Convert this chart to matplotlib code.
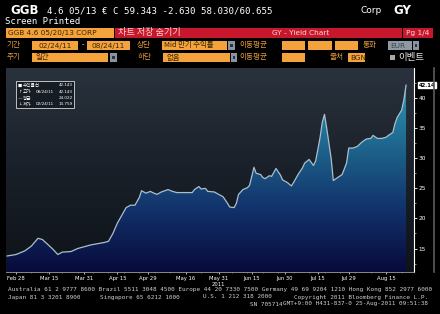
import numpy as np
import pandas as pd
import matplotlib
matplotlib.use("Agg")
import matplotlib.pyplot as plt
import matplotlib.dates as mdates
import matplotlib.transforms as mtransforms
from matplotlib.patches import Rectangle, Polygon
from matplotlib.lines import Line2D
from matplotlib.colors import LinearSegmentedColormap

# yield series (GGB 4.6 05/20/13, mid yield, %)
dates = [
    "2011-02-24", "2011-02-28", "2011-03-04", "2011-03-07", "2011-03-10", "2011-03-12",
    "2011-03-15", "2011-03-17", "2011-03-19", "2011-03-21", "2011-03-25", "2011-03-28",
    "2011-03-31", "2011-04-03", "2011-04-06", "2011-04-09", "2011-04-11", "2011-04-13",
    "2011-04-15", "2011-04-17", "2011-04-19", "2011-04-21", "2011-04-23", "2011-04-25",
    "2011-04-26", "2011-04-28", "2011-04-30", "2011-05-01", "2011-05-03", "2011-05-05",
    "2011-05-08", "2011-05-10", "2011-05-12", "2011-05-15", "2011-05-17", "2011-05-19",
    "2011-05-20", "2011-05-22", "2011-05-23", "2011-05-25", "2011-05-26", "2011-05-29",
    "2011-05-31", "2011-06-02", "2011-06-04", "2011-06-05", "2011-06-07", "2011-06-08",
    "2011-06-09", "2011-06-11", "2011-06-13", "2011-06-14", "2011-06-16", "2011-06-17",
    "2011-06-19", "2011-06-20", "2011-06-21", "2011-06-23", "2011-06-24", "2011-06-26",
    "2011-06-28", "2011-06-29", "2011-07-01", "2011-07-03", "2011-07-04", "2011-07-06",
    "2011-07-08", "2011-07-09", "2011-07-11", "2011-07-13", "2011-07-14", "2011-07-15",
    "2011-07-16", "2011-07-17", "2011-07-18", "2011-07-19", "2011-07-21", "2011-07-22",
    "2011-07-24", "2011-07-26", "2011-07-28", "2011-07-29", "2011-07-31", "2011-08-02",
    "2011-08-04", "2011-08-06", "2011-08-08", "2011-08-09", "2011-08-11", "2011-08-13",
    "2011-08-15", "2011-08-16", "2011-08-18", "2011-08-19", "2011-08-20", "2011-08-22",
    "2011-08-23", "2011-08-24",
]
yields = [
    13.76, 14.0, 14.6, 15.4, 16.7, 16.5,
    15.5, 14.8, 14.0, 14.4, 14.5, 15.0,
    15.3, 15.6, 15.8, 16.0, 16.2, 17.5,
    19.2, 20.5, 21.8, 22.2, 22.2, 23.5,
    24.6, 24.2, 24.5, 24.3, 24.0, 24.4,
    24.8, 24.5, 24.3, 24.3, 24.3, 24.3,
    24.8, 25.3, 24.9, 25.0, 24.5, 24.4,
    24.0, 23.6, 22.5, 21.9, 21.8, 22.5,
    24.0, 24.8, 25.1, 25.5, 28.5, 27.5,
    27.3, 26.8, 26.6, 27.1, 27.0, 28.3,
    27.2, 26.4, 26.0, 25.4, 26.0, 27.3,
    28.4, 29.2, 29.8, 28.8, 29.6, 31.5,
    33.5, 36.0, 37.3, 35.0, 30.0, 26.3,
    26.8, 27.3, 29.2, 31.7, 31.7, 32.0,
    32.7, 33.2, 33.3, 33.8, 33.3, 33.3,
    33.5, 33.8, 34.3, 35.8, 36.8, 38.0,
    39.7, 42.143,
]

tick_dates = ["2011-02-28", "2011-03-15", "2011-03-31", "2011-04-15", "2011-04-29", "2011-05-16",
              "2011-05-31", "2011-06-15", "2011-06-30", "2011-07-15", "2011-07-29", "2011-08-15"]
tick_labels = ["Feb 28", "Mar 15", "Mar 31", "Apr 15", "Apr 29", "May 16",
               "May 31", "Jun 15", "Jun 30", "Jul 15", "Jul 29", "Aug 15"]
y_ticks = [15, 20, 25, 30, 35, 40]

legend_rows = [("수익률선", "", "42.143"), ("고가", "08/24/11", "42.143"),
               ("평균", "", "24.022"), ("저가", "02/24/11", "13.759")]

W, H = 440, 314
ORANGE = "#f4a23c"
DARK = "#3a2400"
AMBER = "#e39a3a"
RED = "#c7172c"
KR = ["Noto Sans CJK KR", "DejaVu Sans"]
MONO = "DejaVu Sans Mono"
NARROW = ["Liberation Sans Narrow", "DejaVu Sans"]

fig = plt.figure(figsize=(4.4, 3.14), dpi=100, facecolor="black")


def fx(x):
    return x / W


def fy(y):
    return 1 - y / H


def box(x0, y0, x1, y1, color):
    fig.add_artist(Rectangle((fx(x0), fy(y1)), (x1 - x0) / W, (y1 - y0) / H,
                             transform=fig.transFigure, facecolor=color, edgecolor="none"))


def label(x, y, s, color="white", size=5.5, ha="left", family=KR, **kw):
    fig.text(fx(x), fy(y), s, color=color, fontsize=size, ha=ha, va="center",
             family=family, **kw)


def dropdown(x0, y0, x1, y1):
    box(x0, y0, x1, y1, "#8a949e")
    box(x0 + 2, y0 + 3, x1 - 2, y1 - 3, "#2c3440")


# ---- header ----
label(10, 10.5, "GGB", size=8.5, weight="bold", family="DejaVu Sans")
label(47, 10.5, "4.6 05/13 € C 59.343 -2.630 58.030/60.655", size=6.6, family=MONO)
label(360, 10.5, "Corp", size=6.5, family="DejaVu Sans")
label(393, 10.5, "GY", size=8.5, weight="bold", family="DejaVu Sans")
label(5, 22, "Screen Printed", size=6.5, family=MONO)

box(6, 28, 114, 38, ORANGE)
label(8, 33.3, "GGB 4.6 05/20/13 CORP", color=DARK, size=5.3, family="DejaVu Sans")
box(115, 28, 402, 38, RED)
box(403, 28, 433, 38, RED)
label(118, 33, "차트 저장 숨기기", color="#ffd6d6", size=6.6)
label(301, 33.3, "GY - Yield Chart", color="#f7dada", size=5.3, ha="center", family="DejaVu Sans")
label(418, 33.3, "Pg 1/4", color="#f7dada", size=5.3, ha="center", family="DejaVu Sans")

# row 4
label(7, 45.5, "기간", color=AMBER)
box(32, 41, 78, 50, ORANGE)
label(38, 45.7, "02/24/11", color=DARK, size=5.3, family="DejaVu Sans")
label(82, 45.5, "-", size=5.5)
box(87, 41, 130, 50, ORANGE)
label(91, 45.7, "08/24/11", color=DARK, size=5.3, family="DejaVu Sans")
label(137, 45.5, "상단", color=AMBER)
box(162, 41, 227, 50, ORANGE)
label(164, 45.5, "Mid 만기 수익률", color=DARK, size=5.3)
dropdown(228, 41, 235, 50)
label(239, 45.5, "이동평균", color=AMBER)
box(282, 41, 305, 50, ORANGE)
box(308, 41, 332, 50, ORANGE)
box(335, 41, 358, 50, ORANGE)
label(363, 45.5, "통화", color=AMBER)
box(388, 41, 412, 50, "#8f99a3")
label(390, 45.7, "EUR", color="#3c444c", size=5.3, family="DejaVu Sans")
dropdown(413, 41, 419, 50)

# row 5
label(7, 57.5, "주기", color=AMBER)
box(32, 53, 108, 62, ORANGE)
label(35, 57.5, "일간", color=DARK, size=5.3)
dropdown(110, 53, 117, 62)
label(138, 57.5, "하단", color=AMBER)
box(163, 53, 230, 62, ORANGE)
label(166, 57.5, "없음", color=DARK, size=5.3)
dropdown(231, 53, 237, 62)
label(239, 57.5, "이동평균", color=AMBER)
box(282, 53, 305, 62, ORANGE)
label(330, 57.5, "출처", color=AMBER)
box(348, 53, 365, 62, ORANGE)
label(350, 57.7, "BGN", color=DARK, size=5.3, family="DejaVu Sans")
box(390, 55, 395, 60, "#a8a8a8")
label(398, 57.5, "이벤트", color="#e6e6e6", size=6.8)

# ---- chart ----
t = mdates.date2num(pd.to_datetime(dates))
y = np.array(yields)
x0, x1 = t[0] - 0.5, t[-1] + 3.6
y0, y1 = 11.1, 45.0

ax = fig.add_axes([fx(6), fy(272), (414 - 6) / W, (272 - 68) / H])
grad = np.linspace(0, 1, 256).reshape(-1, 1)
bg_cmap = LinearSegmentedColormap.from_list("bg", ["#0e1319", "#1a2029", "#29323d"])
ax.imshow(grad, extent=[x0, x1, y0, y1], origin="lower", aspect="auto", cmap=bg_cmap, zorder=0)

fill_cmap = LinearSegmentedColormap.from_list(
    "fill", [(0.0, "#070a3a"), (0.3, "#12306a"), (0.55, "#1b5a85"), (0.8, "#2783a6"), (1.0, "#3aa6c6")])
verts = [(t[0], y0)] + list(zip(t, y)) + [(t[-1], y0)]
poly = Polygon(verts, closed=True, facecolor="none", edgecolor="none")
ax.add_patch(poly)
im = ax.imshow(grad, extent=[x0, x1, y0, y1], origin="lower", aspect="auto", cmap=fill_cmap, zorder=1)
im.set_clip_path(poly)
ax.plot(t, y, color="#a9bfcd", lw=0.9, zorder=2)

ax.set_xlim(x0, x1)
ax.set_ylim(y0, y1)
for side in ["top", "left"]:
    ax.spines[side].set_visible(False)
ax.spines["right"].set_color("white")
ax.spines["right"].set_linewidth(0.8)
ax.spines["bottom"].set_color("#9aa0a8")
ax.spines["bottom"].set_linewidth(0.6)

ax.yaxis.tick_right()
ax.set_yticks(y_ticks)
ax.set_yticklabels([str(v) for v in y_ticks])
ax.set_yticks(np.arange(12.5, 45, 5), minor=True)
ax.tick_params(axis="y", which="major", colors="white", labelsize=4.2, length=2, width=0.6, pad=1.5)
ax.tick_params(axis="y", which="minor", colors="white", length=1.2, width=0.4)

ax.set_xticks(mdates.date2num(pd.to_datetime(tick_dates)))
ax.set_xticklabels(tick_labels)
ax.xaxis.set_minor_locator(mdates.WeekdayLocator(byweekday=mdates.MO))
ax.tick_params(axis="x", which="major", colors="white", labelsize=3.8, length=1.5, width=0.5, pad=1.2)
ax.tick_params(axis="x", which="minor", colors="#9aa0a8", length=1, width=0.4)
for lab in ax.get_xticklabels() + ax.get_yticklabels():
    lab.set_family(NARROW)

may31 = mdates.date2num(pd.Timestamp("2011-05-31"))
fig.text(fx(6) + (may31 - x0) / (x1 - x0) * (408 / W), fy(284), "2011", color="white",
         fontsize=3.8, ha="center", va="center", family=NARROW)

# last value tag on the axis
tr = mtransforms.blended_transform_factory(ax.transAxes, ax.transData)
ax.text(1.012, yields[-1], "42.14", transform=tr, color="black", fontsize=3.8, va="center",
        ha="left", weight="bold",
        bbox=dict(boxstyle="square,pad=0.15", facecolor="white", edgecolor="white"))

# scroll bar line on the far right
fig.add_artist(Line2D([fx(433.5), fx(433.5)], [fy(68), fy(272)], transform=fig.transFigure,
                      color="#5c5c5c", lw=1.2))

# legend box
lx0, ly0, lx1, ly1 = 16, 81, 74, 108
fig.add_artist(Rectangle((fx(lx0), fy(ly1)), (lx1 - lx0) / W, (ly1 - ly0) / H,
                         transform=fig.transFigure, facecolor="#161c24",
                         edgecolor="#d8d8d8", lw=0.6))
icons = ["■", "↑", "—", "↓"]
for i, (name, day, val) in enumerate(legend_rows):
    yy = 85.5 + i * 6.3
    label(18, yy, icons[i], size=3.2, family="DejaVu Sans")
    label(22.5, yy, name, size=3.3)
    if day:
        label(36, yy, day, size=3.0, family=NARROW)
    label(72.5, yy, val, size=3.0, ha="right", family=NARROW)

# ---- footer ----
FOOT = "#cfcfcf"
label(8, 290, "Australia 61 2 9777 8600 Brazil 5511 3048 4500 Europe 44 20 7330 7500 "
      "Germany 49 69 9204 1210 Hong Kong 852 2977 6000", color=FOOT, size=4.3, family=MONO)
label(8, 297, "Japan 81 3 3201 8900", color=FOOT, size=4.3, family=MONO)
label(100, 297, "Singapore 65 6212 1000", color=FOOT, size=4.3, family=MONO)
label(203, 297, "U.S. 1 212 318 2000", color=FOOT, size=4.3, family=MONO)
label(428, 297, "Copyright 2011 Bloomberg Finance L.P.", color=FOOT, size=4.3, ha="right", family=MONO)
label(250, 304, "SN 705714", color=FOOT, size=4.3, family=MONO)
label(428, 304, "GMT+9:00 H431-837-0 25-Aug-2011 09:51:38", color=FOOT, size=4.3, ha="right", family=MONO)

fig.savefig("out.png", dpi=100, facecolor="black")
